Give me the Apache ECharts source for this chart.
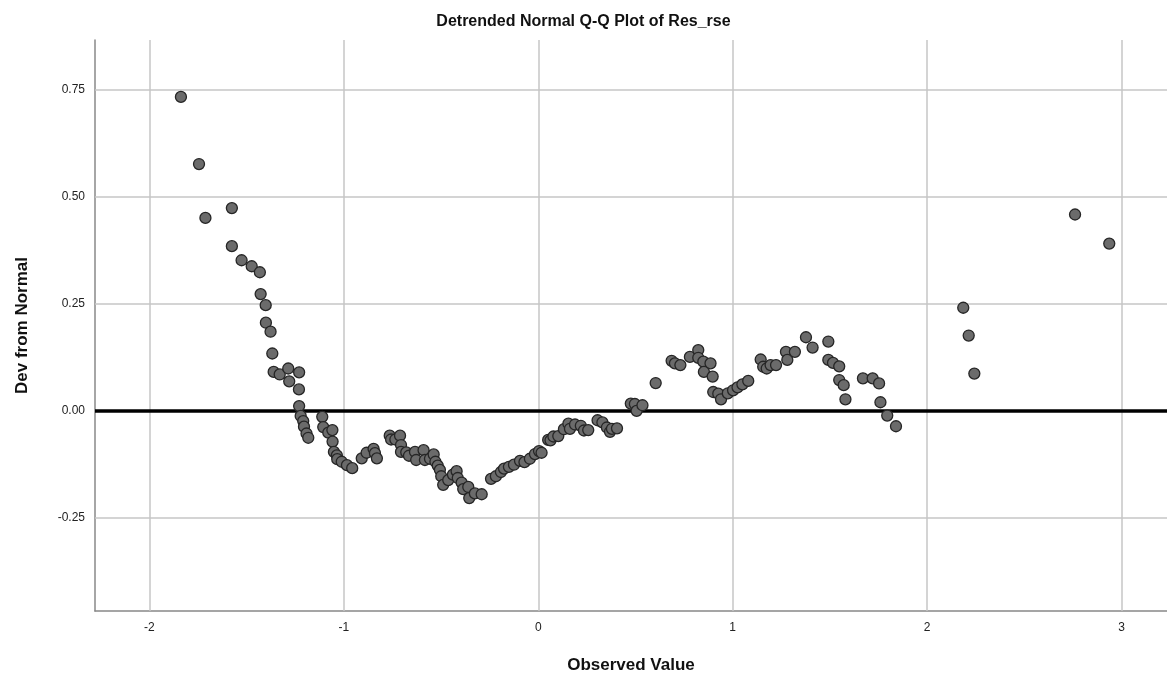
<!DOCTYPE html>
<html>
<head>
<meta charset="utf-8">
<script src="https://cdn.jsdelivr.net/npm/echarts@6/dist/echarts.min.js"></script>
<style>
html,body{margin:0;padding:0;background:#fff;}
#chart{width:1167px;height:682px;}
</style>
</head>
<body>
<div id="chart"></div>
<script>
// Observed values (x) and deviation from normal (y)
var observed = [
-1.838,-1.745,-1.712,-1.576,-1.576,-1.526,-1.474,-1.432,-1.428,-1.402,
-1.401,-1.377,-1.368,-1.361,-1.330,-1.286,-1.281,-1.230,-1.231,-1.230,
-1.222,-1.209,-1.205,-1.192,-1.183,-1.111,-1.106,-1.080,-1.059,-1.058,
-1.051,-1.036,-1.034,-1.011,-0.984,-0.957,-0.908,-0.883,-0.847,-0.840,
-0.830,-0.764,-0.757,-0.735,-0.711,-0.706,-0.706,-0.679,-0.665,-0.634,
-0.628,-0.590,-0.583,-0.557,-0.538,-0.529,-0.517,-0.506,-0.499,-0.489,
-0.463,-0.439,-0.420,-0.414,-0.394,-0.386,-0.360,-0.355,-0.326,-0.291,
-0.243,-0.218,-0.192,-0.176,-0.151,-0.125,-0.094,-0.071,-0.043,-0.017,
0.004,0.017,0.051,0.063,0.078,0.103,0.132,0.155,0.163,0.189,
0.219,0.235,0.257,0.305,0.330,0.353,0.369,0.379,0.405,0.476,
0.497,0.506,0.536,0.604,0.686,0.703,0.731,0.780,0.823,0.823,
0.849,0.886,0.852,0.897,0.900,0.926,0.940,0.975,1.002,1.025,
1.050,1.080,1.144,1.157,1.175,1.195,1.223,1.274,1.281,1.320,
1.377,1.411,1.492,1.492,1.516,1.548,1.548,1.571,1.580,1.670,
1.720,1.753,1.760,1.795,1.840,2.186,2.214,2.243,2.761,2.937
];
var deviation = [
0.734,0.577,0.451,0.474,0.385,0.352,0.338,0.324,0.273,0.247,
0.206,0.185,0.134,0.091,0.085,0.099,0.069,0.090,0.050,0.011,
-0.012,-0.024,-0.037,-0.053,-0.063,-0.014,-0.038,-0.051,-0.045,-0.072,
-0.096,-0.104,-0.113,-0.119,-0.127,-0.134,-0.111,-0.098,-0.089,-0.099,
-0.111,-0.058,-0.067,-0.067,-0.058,-0.080,-0.096,-0.097,-0.105,-0.096,
-0.115,-0.092,-0.115,-0.112,-0.102,-0.119,-0.128,-0.138,-0.153,-0.173,
-0.162,-0.149,-0.141,-0.157,-0.168,-0.183,-0.178,-0.204,-0.193,-0.195,
-0.159,-0.153,-0.143,-0.135,-0.131,-0.126,-0.117,-0.120,-0.112,-0.101,
-0.094,-0.098,-0.068,-0.069,-0.060,-0.059,-0.043,-0.030,-0.042,-0.032,
-0.035,-0.046,-0.045,-0.022,-0.027,-0.039,-0.049,-0.042,-0.041,0.017,
0.016,0.000,0.013,0.065,0.117,0.111,0.107,0.126,0.142,0.124,
0.115,0.111,0.091,0.080,0.044,0.040,0.027,0.041,0.048,0.055,
0.062,0.070,0.120,0.103,0.099,0.107,0.107,0.138,0.119,0.138,
0.172,0.148,0.162,0.119,0.112,0.104,0.072,0.060,0.027,0.076,
0.076,0.064,0.020,-0.011,-0.036,0.241,0.176,0.087,0.459,0.391
];
var xTicks = [-2, -1, 0, 1, 2, 3];
var yTicks = [-0.25, 0, 0.25, 0.5, 0.75];
var xRange = [-2.280, 3.234];
var yRange = [-0.468, 0.867];

var points = observed.map(function (v, i) { return [v, deviation[i]]; });

var gridLines = [];
xTicks.forEach(function (t) { gridLines.push({ xAxis: t }); });
yTicks.forEach(function (t) { if (t !== 0) gridLines.push({ yAxis: t }); });

var chart = echarts.init(document.getElementById('chart'), null, { renderer: 'canvas' });
chart.setOption({
  animation: false,
  backgroundColor: '#ffffff',
  title: {
    text: 'Detrended Normal Q-Q Plot of Res_rse',
    left: 'center',
    top: 9,
    textStyle: { fontFamily: 'Liberation Sans, Arial, sans-serif', fontSize: 16, fontWeight: 'bold', color: '#111' }
  },
  grid: { left: 95, right: 0, top: 40, bottom: 71, containLabel: false },
  xAxis: {
    type: 'value',
    min: xRange[0],
    max: xRange[1],
    name: 'Observed Value',
    nameLocation: 'middle',
    nameGap: 46,
    nameTextStyle: { fontFamily: 'Liberation Sans, Arial, sans-serif', fontSize: 17, fontWeight: 'bold', color: '#111' },
    axisLine: { show: true, onZero: false, lineStyle: { color: '#888888', width: 1.5 } },
    axisTick: { show: false },
    splitLine: { show: false },
    axisLabel: {
      customValues: xTicks,
      margin: 11,
      fontFamily: 'Liberation Sans, Arial, sans-serif',
      fontSize: 12,
      color: '#222'
    }
  },
  yAxis: {
    type: 'value',
    min: yRange[0],
    max: yRange[1],
    name: 'Dev from Normal',
    nameLocation: 'middle',
    nameGap: 64,
    nameRotate: 90,
    nameTextStyle: { fontFamily: 'Liberation Sans, Arial, sans-serif', fontSize: 17, fontWeight: 'bold', color: '#111' },
    axisLine: { show: true, onZero: false, lineStyle: { color: '#888888', width: 1.5 } },
    axisTick: { show: false },
    splitLine: { show: false },
    axisLabel: {
      customValues: yTicks,
      margin: 10,
      fontFamily: 'Liberation Sans, Arial, sans-serif',
      fontSize: 12,
      color: '#222',
      formatter: function (v) { return v.toFixed(2); }
    }
  },
  series: [
    {
      type: 'line',
      data: [],
      silent: true,
      markLine: {
        silent: true,
        symbol: 'none',
        label: { show: false },
        lineStyle: { type: 'solid', color: '#c6c6c6', width: 1.5 },
        data: gridLines
      }
    },
    {
      type: 'line',
      data: [],
      silent: true,
      z: 3,
      markLine: {
        silent: true,
        symbol: 'none',
        label: { show: false },
        lineStyle: { type: 'solid', color: '#000000', width: 3.5 },
        data: [{ yAxis: 0 }]
      }
    },
    {
      type: 'scatter',
      z: 5,
      data: points,
      symbol: 'circle',
      symbolSize: 11,
      itemStyle: { color: '#6b6b6b', borderColor: '#262626', borderWidth: 1.3, opacity: 1 }
    }
  ]
});
</script>
</body>
</html>
